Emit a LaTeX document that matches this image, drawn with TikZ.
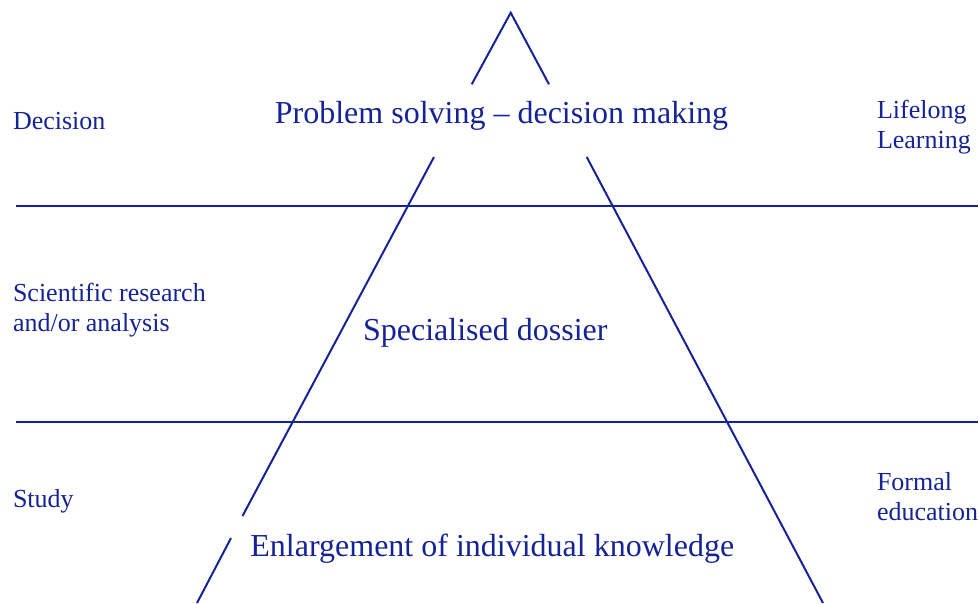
\documentclass[tikz,border=0pt]{standalone}
\usepackage{fontspec}
\setmainfont{Liberation Serif}
\definecolor{pyrblue}{RGB}{20,35,150}
\begin{document}
\begin{tikzpicture}[x=1pt,y=-1pt,line width=2pt,pyrblue,
	side/.style={anchor=base west,inner sep=0pt,align=left,font=\fontsize{26}{30}\selectfont},
	level/.style={anchor=base,inner sep=0pt,font=\fontsize{32}{38}\selectfont}]
	\useasboundingbox (0,0) rectangle (979,603);
	% separating lines
	\foreach \y in {206,421.5}
	\draw (16,\y) -- (977.5,\y);
	% pyramid
	\coordinate (apex) at (510.7,12.7);
	\coordinate (topl) at (471.7,84.3);
	\coordinate (topr) at (549,84.3);
	\coordinate (midl) at (434,157);
	\coordinate (midr) at (586.7,157);
	\coordinate (lowl) at (242.5,516);
	\coordinate (botl) at (231,538);
	\coordinate (endl) at (197,603);
	\coordinate (endr) at (823,603);
	\draw (topl) -- (apex) -- (topr);
	\draw (midl) -- (lowl);
	\draw (botl) -- (endl);
	\draw (midr) -- (endr);
	% levels
	\node[level] (solving) at (501.5,123.5) {Problem solving – decision making};
	\node[level] (dossier) at (485.3,340) {Specialised dossier};
	\node[level] (knowledge) at (492.3,556.7) {Enlargement of individual knowledge};
	% left side (two-line nodes sit on their last line)
	\node[side] (decision) at (12,129.3) {Decision};
	\node[side] (research) at (12,331.5) {Scientific research\\and/or analysis};
	\node[side] (study) at (12,507.3) {Study};
	% right side
	\node[side] (lifelong) at (876,148.3) {Lifelong\\Learning};
	\node[side] (formal) at (876,520.5) {Formal\\education};
\end{tikzpicture}
\end{document}
